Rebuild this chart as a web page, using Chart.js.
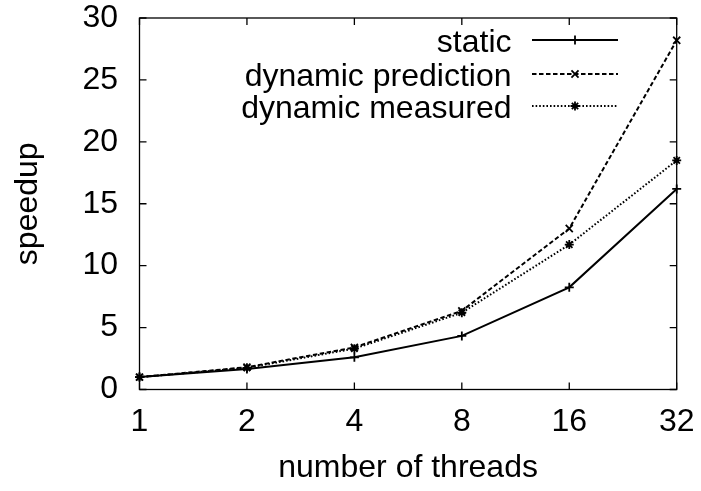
<!DOCTYPE html>
<html>
<head>
<meta charset="utf-8">
<script src="https://cdn.jsdelivr.net/npm/chart.js@4/dist/chart.umd.min.js"></script>
<style>
html,body{margin:0;padding:0;background:#fff;}
canvas{display:block;}
</style>
</head>
<body>
<canvas id="c" width="701" height="491"></canvas>
<script>
const threads = ['1', '2', '4', '8', '16', '32'];
const staticSpeedup = [1.0, 1.65, 2.6, 4.33, 8.25, 16.2];
const dynPrediction = [1.0, 1.8, 3.4, 6.35, 13.0, 28.2];
const dynMeasured = [1.0, 1.75, 3.3, 6.2, 11.7, 18.5];
const yTicks = [0, 5, 10, 15, 20, 25, 30];
const seriesNames = ['static', 'dynamic prediction', 'dynamic measured'];

const FONT = '"Liberation Sans", Arial, Helvetica, sans-serif';
const FS = 32;

const framePlugin = {
  id: 'frame',
  afterDatasetsDraw(chart) {
    const ctx = chart.ctx;
    const a = chart.chartArea;
    const xs = chart.scales.x, ys = chart.scales.y;
    ctx.save();
    ctx.strokeStyle = '#000';
    ctx.lineWidth = 1.3;
    ctx.strokeRect(a.left, a.top, a.right - a.left, a.bottom - a.top);
    const tl = 7;
    ctx.beginPath();
    threads.forEach((t, i) => {
      const px = xs.getPixelForValue(i);
      ctx.moveTo(px, a.bottom); ctx.lineTo(px, a.bottom - tl);
      ctx.moveTo(px, a.top); ctx.lineTo(px, a.top + tl);
    });
    yTicks.forEach(v => {
      const py = ys.getPixelForValue(v);
      ctx.moveTo(a.left, py); ctx.lineTo(a.left + tl, py);
      ctx.moveTo(a.right, py); ctx.lineTo(a.right - tl, py);
    });
    ctx.stroke();

    // axis titles
    ctx.fillStyle = '#000';
    ctx.font = FS + 'px ' + FONT;
    ctx.textAlign = 'center';
    ctx.textBaseline = 'alphabetic';
    ctx.fillText('number of threads', (a.left + a.right) / 2, 477);
    ctx.save();
    ctx.translate(37, (a.top + a.bottom) / 2);
    ctx.rotate(-Math.PI / 2);
    ctx.fillText('speedup', 0, 0);
    ctx.restore();

    // legend
    const rows = [40, 74, 106];
    chart.data.datasets.forEach((ds, i) => {
      const y = rows[i];
      ctx.textAlign = 'right';
      ctx.fillText(ds.label, 511.5, y + 11.5);
      ctx.save();
      ctx.strokeStyle = '#000';
      ctx.lineWidth = ds.borderWidth;
      ctx.setLineDash(ds.borderDash || []);
      ctx.beginPath();
      ctx.moveTo(532, y); ctx.lineTo(618, y);
      ctx.stroke();
      ctx.setLineDash([]);
      ctx.lineWidth = ds.pointBorderWidth;
      Chart.helpers.drawPoint(ctx, {pointStyle: ds.pointStyle, radius: ds.pointRadius, rotation: 0, borderWidth: ds.pointBorderWidth}, 575, y);
      ctx.restore();
    });
    ctx.restore();
  }
};

const common = {
  borderColor: '#000',
  backgroundColor: '#000',
  pointBorderColor: '#000',
  pointBackgroundColor: '#000',
  borderWidth: 2,
  pointBorderWidth: 1.8,
  tension: 0,
  fill: false,
  clip: false
};

function noPad(s) {
  s.paddingTop = 0; s.paddingBottom = 0; s.paddingLeft = 0; s.paddingRight = 0;
}

new Chart(document.getElementById('c'), {
  type: 'line',
  data: {
    labels: threads,
    datasets: [
      Object.assign({}, common, {label: seriesNames[0], data: staticSpeedup, pointStyle: 'cross', pointRadius: 4.5}),
      Object.assign({}, common, {label: seriesNames[1], data: dynPrediction, pointStyle: 'crossRot', pointRadius: 5, borderDash: [4.5, 2.5]}),
      Object.assign({}, common, {label: seriesNames[2], data: dynMeasured, pointStyle: 'star', pointRadius: 4.5, borderDash: [1.6, 2]})
    ]
  },
  options: {
    responsive: false,
    animation: false,
    devicePixelRatio: 1,
    layout: {padding: {left: 0, right: 24.3, top: 18, bottom: 0}},
    plugins: {legend: {display: false}, tooltip: {enabled: false}},
    scales: {
      x: {
        type: 'category',
        offset: false,
        grid: {display: false, drawTicks: false},
        border: {display: false},
        ticks: {color: '#000', font: {family: FONT, size: FS, lineHeight: 1}, padding: 17, maxRotation: 0, autoSkip: false},
        afterFit(s) { s.height = 101.5; noPad(s); }
      },
      y: {
        min: 0, max: 30,
        grid: {display: false, drawTicks: false},
        border: {display: false},
        ticks: {stepSize: 5, color: '#000', font: {family: FONT, size: FS, lineHeight: 1}, padding: 21.5},
        afterFit(s) { s.width = 139.5; noPad(s); }
      }
    }
  },
  plugins: [framePlugin]
});
</script>
</body>
</html>
